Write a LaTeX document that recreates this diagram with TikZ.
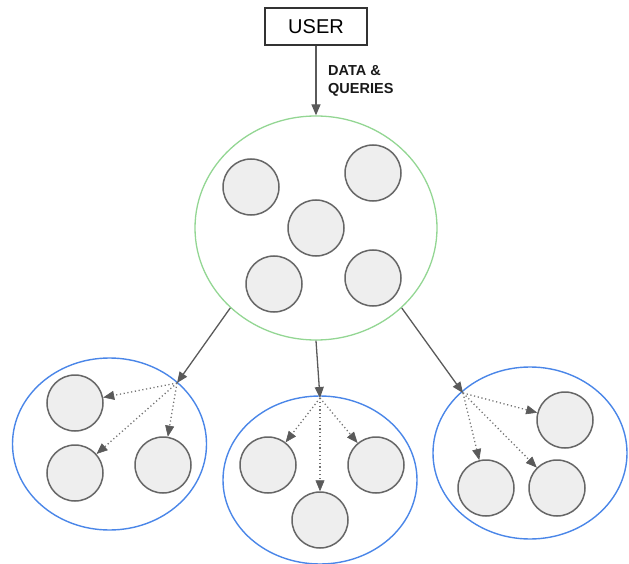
\documentclass[tikz,border=0pt]{standalone}
\usepackage{fontspec}
\setmainfont{Liberation Sans}
\usetikzlibrary{shapes.geometric,arrows.meta}

\definecolor{edgegray}{HTML}{5A5A5A}
\definecolor{cellfill}{HTML}{EEEEEE}
\definecolor{cellline}{HTML}{666666}
\definecolor{mastergreen}{HTML}{93D693}
\definecolor{groupblue}{HTML}{4A86E8}

\tikzset{
  cell/.style={circle, draw=cellline, fill=cellfill, line width=1.5pt,
    minimum size=56pt, inner sep=0pt},
  cluster/.style={ellipse, draw=groupblue, line width=1.4pt, inner sep=0pt,
    minimum width=194pt, minimum height=172pt},
  flow/.style={draw=edgegray, line width=1.3pt,
    -{Triangle[length=11pt,width=9pt]}},
  fanout/.style={draw=edgegray!85, line width=1.3pt,
    dash pattern=on 1.2pt off 2.6pt,
    -{Triangle[length=11pt,width=9pt,color=edgegray,fill=edgegray,line width=0.6pt]}},
}

\begin{document}
\begin{tikzpicture}[x=1pt,y=-1pt]
\useasboundingbox (0,0) rectangle (629,564);

% user box and the master group
\node[draw=black!80, line width=1.2pt, minimum width=102pt, minimum height=37pt,
  inner sep=0pt, font=\fontsize{20}{24}\selectfont] (user) at (316,26.5) {USER};
\node[ellipse, draw=mastergreen, line width=1.3pt, inner sep=0pt,
  minimum width=242pt, minimum height=224pt] (master) at (316,228) {};

\node[cell] (m1) at (251,187) {};
\node[cell] (m2) at (373,173) {};
\node[cell] (m3) at (316,228) {};
\node[cell] (m4) at (274,284) {};
\node[cell] (m5) at (373,278) {};

\draw[flow] (user) -- (master);
\node[anchor=north west, inner sep=0pt, align=left, text=black!90,
  font=\fontsize{14.5}{18.5}\selectfont\bfseries] (lbl) at (328,65)
  {DATA \&\\QUERIES};

% left group
\node[cluster] (gl) at (109.5,444) {};
\coordinate (hl) at (177,383);
\node[cell] (l1) at (75,403) {};
\node[cell] (l2) at (75,473) {};
\node[cell] (l3) at (163,465) {};

% middle group
\node[cluster, minimum height=168pt] (gm) at (320,480) {};
\coordinate (hm) at (320,398);
\node[cell] (c1) at (268,465) {};
\node[cell] (c2) at (376,465) {};
\node[cell] (c3) at (320,520) {};

% right group
\node[cluster] (gr) at (530,453) {};
\coordinate (hr) at (463,393);
\node[cell] (r1) at (565,420) {};
\node[cell] (r2) at (486,488) {};
\node[cell] (r3) at (557,488) {};

% master to groups
\draw[flow] (master.223) -- (hl);
\draw[flow] (master.270) -- (hm);
\draw[flow] (master.317) -- (hr);

% fan-out inside each group
\foreach \t in {l1,l2,l3} \draw[fanout] (hl) -- (\t);
\foreach \t in {c1,c2,c3} \draw[fanout] (hm) -- (\t);
\foreach \t in {r1,r2,r3} \draw[fanout] (hr) -- (\t);
\end{tikzpicture}
\end{document}
